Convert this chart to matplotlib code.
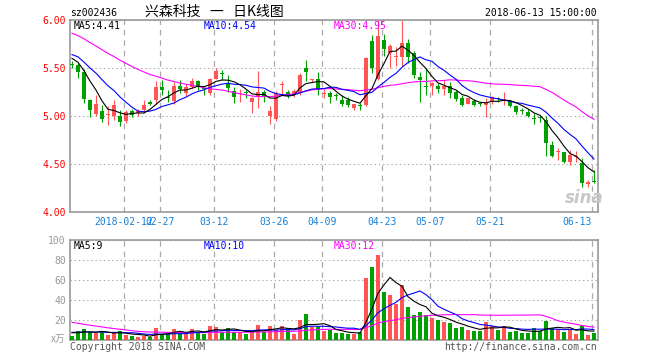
import matplotlib
matplotlib.use("Agg")

import matplotlib.pyplot as plt
import numpy as np
import pandas as pd

# trading days shown (2018-01-30 .. 2018-06-13, SZ exchange holidays removed)
holidays = ["2018-02-15", "2018-02-16", "2018-02-19", "2018-02-20", "2018-02-21",
            "2018-04-05", "2018-04-06", "2018-04-30", "2018-05-01"]
dates = [d.strftime("%Y-%m-%d") for d in pd.bdate_range("2018-01-30", "2018-06-13")
         if d.strftime("%Y-%m-%d") not in holidays]

opens = [5.535, 5.53, 5.46, 5.17, 5.02, 5.055, 5.015, 4.995, 5.00, 4.95,
         5.055, 5.03, 5.06, 5.14, 5.17, 5.305, 5.20, 5.16, 5.31, 5.235,
         5.305, 5.36, 5.29, 5.24, 5.39, 5.44, 5.34, 5.265, 5.23, 5.245,
         5.15, 5.20, 5.25, 5.00, 4.965, 5.32, 5.25, 5.225, 5.235, 5.495,
         5.37, 5.39, 5.225, 5.24, 5.215, 5.17, 5.165, 5.085, 5.115, 5.115,
         5.78, 5.385, 5.79, 5.66, 5.61, 5.615, 5.76, 5.66, 5.41, 5.31,
         5.315, 5.31, 5.28, 5.315, 5.25, 5.185, 5.125, 5.155, 5.13, 5.115,
         5.15, 5.19, 5.165, 5.155, 5.10, 5.055, 5.045, 4.97, 4.98, 4.96,
         4.70, 4.625, 4.62, 4.525, 4.57, 4.51, 4.29, 4.32]
highs = [5.57, 5.55, 5.49, 5.18, 5.22, 5.115, 5.10, 5.17, 5.06, 5.06,
         5.07, 5.07, 5.17, 5.17, 5.36, 5.38, 5.27, 5.35, 5.37, 5.33,
         5.40, 5.37, 5.305, 5.40, 5.50, 5.48, 5.43, 5.30, 5.28, 5.27,
         5.20, 5.47, 5.27, 5.10, 5.26, 5.36, 5.27, 5.28, 5.45, 5.58,
         5.39, 5.46, 5.28, 5.26, 5.24, 5.22, 5.20, 5.13, 5.14, 5.61,
         5.84, 6.00, 5.85, 5.75, 5.72, 6.00, 5.80, 5.68, 5.46, 5.50,
         5.35, 5.34, 5.38, 5.35, 5.27, 5.22, 5.19, 5.18, 5.15, 5.19,
         5.21, 5.20, 5.25, 5.17, 5.11, 5.08, 5.07, 5.03, 5.00, 5.00,
         4.74, 4.665, 4.62, 4.65, 4.64, 4.56, 4.335, 4.44]
lows = [5.50, 5.40, 5.135, 4.99, 5.00, 4.94, 4.91, 4.96, 4.90, 4.93,
        4.99, 5.00, 5.045, 5.11, 5.13, 5.22, 5.15, 5.13, 5.24, 5.21,
        5.29, 5.27, 5.22, 5.22, 5.39, 5.375, 5.25, 5.14, 5.15, 5.19,
        5.035, 5.08, 5.15, 4.92, 4.95, 5.22, 5.19, 5.20, 5.22, 5.36,
        5.35, 5.22, 5.19, 5.14, 5.17, 5.10, 5.09, 5.06, 5.06, 5.10,
        5.45, 5.37, 5.62, 5.50, 5.52, 5.52, 5.55, 5.40, 5.15, 5.22,
        5.22, 5.24, 5.22, 5.19, 5.16, 5.10, 5.12, 5.10, 5.10, 4.99,
        5.13, 5.15, 5.11, 5.09, 5.02, 5.02, 4.99, 4.92, 4.94, 4.58,
        4.57, 4.54, 4.51, 4.49, 4.52, 4.265, 4.265, 4.30]
closes = [5.53, 5.46, 5.18, 5.06, 5.125, 4.965, 5.02, 5.115, 4.94, 5.045,
          5.01, 5.05, 5.11, 5.13, 5.305, 5.27, 5.19, 5.31, 5.28, 5.305,
          5.36, 5.30, 5.28, 5.39, 5.47, 5.435, 5.29, 5.195, 5.24, 5.24,
          5.19, 5.245, 5.21, 5.05, 5.235, 5.33, 5.21, 5.26, 5.43, 5.46,
          5.38, 5.27, 5.235, 5.20, 5.205, 5.13, 5.11, 5.12, 5.10, 5.60,
          5.50, 5.83, 5.70, 5.73, 5.62, 5.76, 5.615, 5.43, 5.37, 5.30,
          5.345, 5.28, 5.31, 5.24, 5.18, 5.115, 5.185, 5.11, 5.125, 5.15,
          5.20, 5.175, 5.175, 5.105, 5.04, 5.05, 5.005, 4.965, 4.975, 4.715,
          4.585, 4.63, 4.525, 4.595, 4.575, 4.30, 4.31, 4.31]
# volume, 万手
volumes = [4, 9, 11, 7.7, 7.3, 8.3, 5, 6.7, 9, 5,
           4, 3, 4, 3.3, 12, 6, 6, 11, 8.3, 6.7,
           11, 8.3, 6, 14, 13, 8.3, 11.7, 8.3, 8.3, 6,
           8.3, 15, 8.3, 14, 10, 14, 11.7, 6, 20, 26,
           13.3, 13.3, 9, 10, 7, 7, 6.3, 6.3, 7.7, 62,
           73, 85, 48, 44.7, 36.3, 54.7, 33, 25.3, 28, 25.3,
           22, 20.3, 18, 17, 12, 12.7, 9.7, 9.3, 9.3, 18,
           14.3, 10, 14, 7.7, 9.3, 7, 7, 12, 9, 19.5,
           12, 11, 8.5, 11, 6.5, 14.5, 5, 7.5]

# estimated history before the window, only so the moving averages start where they do
prior_close = [6.22, 6.18, 6.25, 6.20, 6.12, 6.15, 6.10, 6.08, 6.05,
               5.98, 5.95, 5.92, 5.90, 5.88, 5.85, 5.82,
               5.75, 5.72, 5.70, 5.66,
               5.70, 5.72, 5.68, 5.66, 5.64,
               5.66, 5.62, 5.60, 5.59]
prior_vol = [38, 42, 35, 33, 36, 30,
             30, 28, 26, 27, 24,
             14, 12, 13, 11, 12, 14,
             10, 11, 9,
             8, 7, 9, 8, 7.5,
             9, 7, 8, 8.5]

tick_dates = ["2018-02-12", "2018-02-27", "2018-03-12", "2018-03-26", "2018-04-09",
              "2018-04-23", "2018-05-07", "2018-05-21", "2018-06-13"]
tick_labels = ["2018-02-12", "02-27", "03-12", "03-26", "04-09",
               "04-23", "05-07", "05-21", "06-13"]
price_ma_text = ["MA5:4.41", "MA10:4.54", "MA30:4.95"]
vol_ma_text = ["MA5:9", "MA10:10", "MA30:12"]

RED = "#ff5555"
GREEN = "#00a000"
MA_COLORS = ["black", "#0000ff", "#ff00ff"]
GRID = "#aaaaaa"
MONO = "DejaVu Sans Mono"
CJK = ["Noto Sans CJK SC", "DejaVu Sans"]

W, H = 660, 360


def px(x, y):
    return x / W, 1 - y / H


def ma(hist, vals, n):
    s = pd.Series(list(hist) + list(vals)).rolling(n).mean()
    return s.values[len(hist):]


def style_axes(a):
    for sp in a.spines.values():
        sp.set_color("#999999")
        sp.set_linewidth(1.2)
    a.set_axisbelow(True)
    a.yaxis.grid(True, color=GRID, lw=0.8, dashes=(1, 2))
    a.xaxis.grid(True, color=GRID, lw=0.9, dashes=(4, 3.5))
    a.tick_params(length=0)


o = np.array(opens)
h = np.array(highs)
l = np.array(lows)
c = np.array(closes)
v = np.array(volumes)
x = np.arange(len(dates))
colors = np.where(c >= o, RED, GREEN)
tick_x = [dates.index(d) - 0.3 for d in tick_dates]

plt.rcParams["lines.scale_dashes"] = False
fig = plt.figure(figsize=(6.6, 3.6), dpi=100)
ax = fig.add_axes([70 / W, 1 - 212 / H, 528 / W, 192 / H])
av = fig.add_axes([70 / W, 1 - 340 / H, 528 / W, 100 / H])

# price panel
ax.vlines(x, l, h, colors=colors, lw=0.8, zorder=2)
body = np.maximum(np.abs(c - o), 0.011)
ax.bar(x, body, bottom=np.minimum(o, c), width=0.8, color=colors, lw=0, zorder=3)
for n, col in zip([30, 10, 5], MA_COLORS[::-1]):
    ax.plot(x, ma(prior_close, c, n), color=col, lw=0.8, zorder=4)
ax.set_xlim(-0.33, 87.67)
ax.set_ylim(4.0, 6.0)
ax.set_yticks([4.0, 4.5, 5.0, 5.5, 6.0])
ax.set_yticklabels(["4.00", "4.50", "5.00", "5.50", "6.00"], color="red",
                   fontsize=7, family=MONO)
ax.set_xticks(tick_x)
ax.set_xticklabels(tick_labels, color="#1680d8", fontsize=7, family=MONO)
ax.get_xticklabels()[-1].set_ha("right")
style_axes(ax)
ax.tick_params(axis="y", pad=3)
ax.tick_params(axis="x", pad=3.5)

# volume panel
av.bar(x, v, width=0.8, color=colors, lw=0, zorder=3)
for n, col in zip([30, 10, 5], MA_COLORS[::-1]):
    av.plot(x, ma(prior_vol, v, n), color=col, lw=0.8, zorder=4)
av.set_xlim(-0.33, 87.67)
av.set_ylim(0, 100)
av.set_yticks([20, 40, 60, 80, 100])
av.set_yticklabels(["20", "40", "60", "80", "100"], color="#999999",
                   fontsize=7, family=MONO)
av.set_xticks(tick_x)
av.set_xticklabels([])
style_axes(av)
av.tick_params(axis="y", pad=3)

# header and labels
fig.text(*px(70, 13), "sz002436", fontsize=7, family=MONO, va="center")
fig.text(*px(214, 12), "兴森科技   一   日K线图", fontsize=10, family=CJK,
         ha="center", va="center")
fig.text(*px(597, 13), "2018-06-13 15:00:00", fontsize=7, family=MONO,
         ha="right", va="center")
for xp, txt, col in zip([74, 204, 334], price_ma_text, MA_COLORS):
    fig.text(*px(xp, 26), txt, fontsize=7, family=MONO, color=col, va="center")
for xp, txt, col in zip([74, 204, 334], vol_ma_text, MA_COLORS):
    fig.text(*px(xp, 246), txt, fontsize=7, family=MONO, color=col, va="center")
fig.text(*px(65, 339), "x万", fontsize=7, color="#999999", family=CJK,
         ha="right", va="center")
fig.text(*px(70, 347), "Copyright 2018 SINA.COM", fontsize=7, family=MONO,
         color="#555555", va="center")
fig.text(*px(597, 347), "http://finance.sina.com.cn", fontsize=7, family=MONO,
         color="#555555", ha="right", va="center")
fig.text(*px(584, 198), "sina", fontsize=12, style="italic", weight="bold",
         color="#c8c8c8", ha="center", va="center")

fig.savefig("out.png", dpi=100)
plt.close(fig)
